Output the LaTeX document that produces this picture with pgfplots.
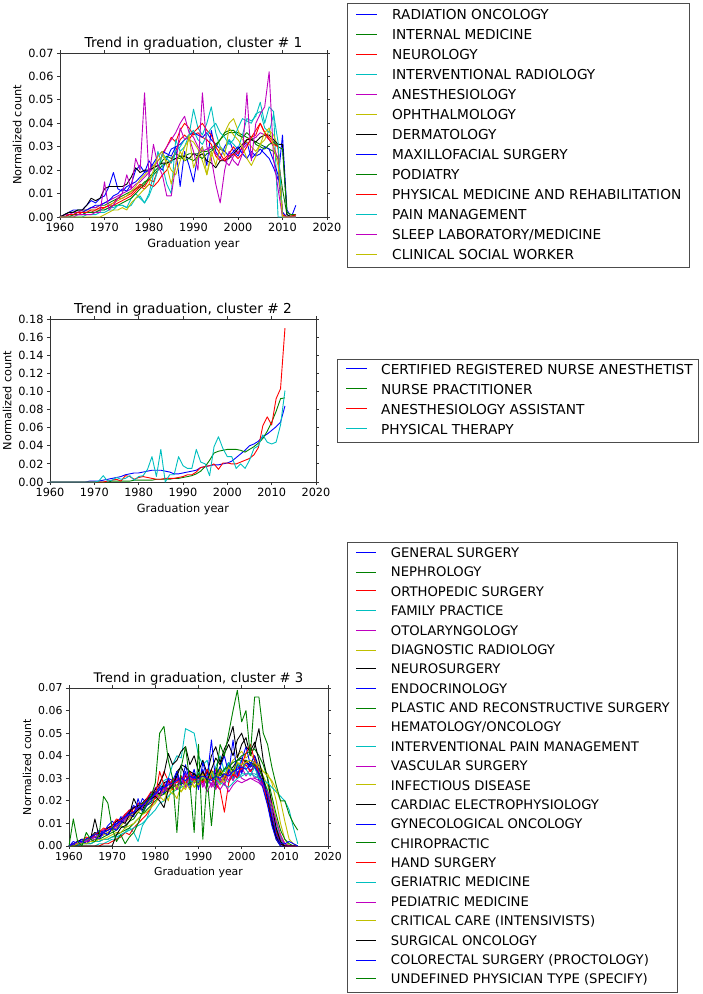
\documentclass[border=0pt]{standalone}
\usepackage{fontspec}
\setmainfont{DejaVu Sans}
\usepackage{pgfplots}
\usepackage{pgfplotstable}
\pgfplotsset{compat=1.18}
\definecolor{mb}{rgb}{0,0,1}
\definecolor{mg}{rgb}{0,0.5,0}
\definecolor{mr}{rgb}{1,0,0}
\definecolor{mc}{rgb}{0,0.75,0.75}
\definecolor{mm}{rgb}{0.75,0,0.75}
\definecolor{my}{rgb}{0.75,0.75,0}
\definecolor{mk}{rgb}{0,0,0}
\newcommand{\tickfont}{\fontsize{11.3}{13}\selectfont}
\newcommand{\bigfont}{\fontsize{13.7}{16}\selectfont}
\newcommand{\tickfontc}{\fontsize{10.9}{12.5}\selectfont}
\newcommand{\bigfontc}{\fontsize{13.2}{15.5}\selectfont}

% values in thousandths, one row per series, one column per graduation year
\pgfplotstableread{
name 1960 1961 1962 1963 1964 1965 1966 1967 1968 1969 1970 1971 1972 1973 1974 1975 1976 1977 1978 1979 1980 1981 1982 1983 1984 1985 1986 1987 1988 1989 1990 1991 1992 1993 1994 1995 1996 1997 1998 1999 2000 2001 2002 2003 2004 2005 2006 2007 2008 2009 2010 2011 2012 2013
a 0 1 2 3 3 3 5 7 6 8 9 13 19 12 11 13 14 20 22 19 24 21 22 20 25 29 30 13 28 22 15 27 30 22 37 28 25 30 33 28 26 30 32 25 27 29 27 25 21 16 35 3 0 5
b 0 1 2 2 3 3 3 4 4 5 5 6 7 8 9 10 11 12 13 15 16 18 20 22 23 24 25 25 26 27 27 27 28 28 29 31 33 35 36 36 36 35 34 33 32 31 30 29 28 25 12 1 0 0
c 0 0 1 1 1 2 2 2 3 3 4 5 6 8 8 9 10 12 14 13 16 15 20 27 30 34 32 37 40 38 35 36 34 33 31 26 24 25 27 30 27 30 33 34 35 40 36 34 32 30 0 0 1 0
d 0 0 0 1 1 1 2 2 2 3 3 4 4 5 5 4 8 10 8 6 10 18 28 22 14 10 33 28 30 35 46 38 35 40 47 36 30 28 33 31 29 35 42 41 43 49 40 47 45 0 0 0 0 0
e 0 1 1 2 2 3 3 4 4 5 6 7 8 9 10 11 12 14 15 17 19 21 24 26 30 33 36 40 43 36 34 30 28 29 30 27 25 24 22 26 28 29 31 33 34 36 35 33 30 25 2 0 0 0
f 0 0 1 1 2 2 3 3 3 4 4 5 6 7 8 9 11 13 16 18 20 22 24 26 24 20 18 24 30 33 32 29 24 18 26 30 33 36 40 42 37 33 32 30 28 31 33 37 35 30 1 0 1 1
g 0 1 2 2 3 3 5 8 7 8 12 13 13 13 13 14 17 21 19 20 20 21 22 23 23 24 25 26 26 25 27 26 27 24 23 21 24 24 25 27 29 31 33 33 32 34 35 35 33 31 31 1 0 1
h 0 0 1 1 2 2 3 4 5 5 6 7 9 10 12 11 14 15 17 19 20 23 26 28 27 26 30 31 33 35 36 35 34 36 33 31 29 28 26 28 30 27 25 28 26 27 30 29 24 18 2 0 0 0
i 0 0 0 1 1 1 2 2 2 3 3 4 5 5 6 7 8 10 12 14 17 19 21 24 26 25 27 26 24 25 24 26 25 27 28 30 33 36 37 37 35 34 36 34 31 30 29 31 32 30 29 2 1 1
j 0 0 1 1 2 2 2 3 3 4 4 5 5 6 7 8 9 11 13 12 14 13 15 18 20 24 28 33 35 33 36 38 40 37 35 30 27 24 26 27 25 27 30 34 37 40 36 33 31 30 1 0 0 1
k 0 0 0 0 0 0 1 1 1 2 2 3 3 5 5 4 5 8 9 6 9 14 20 27 25 23 28 30 33 35 37 33 31 35 38 40 36 34 31 33 38 42 41 40 44 45 38 36 44 32 0 0 0 0
l 0 0 0 0 1 1 1 1 2 2 15 3 5 8 10 18 12 25 20 53 17 31 22 18 9 9 22 38 33 34 28 20 53 30 25 14 6 20 28 24 22 27 53 24 40 44 47 62 25 12 0 0 0 0
m 0 0 0 0 0 0 0 0 0 0 1 2 3 3 4 3 6 8 10 12 14 20 26 28 22 14 22 28 24 35 21 26 30 18 28 22 30 26 38 35 33 30 25 22 26 31 36 38 30 22 0 0 0 0
}\rawA
\pgfplotstabletranspose[colnames from=name,input colnames to=year]{\dataA}{\rawA}

\pgfplotstableread{
name 1960 1961 1962 1963 1964 1965 1966 1967 1968 1969 1970 1971 1972 1973 1974 1975 1976 1977 1978 1979 1980 1981 1982 1983 1984 1985 1986 1987 1988 1989 1990 1991 1992 1993 1994 1995 1996 1997 1998 1999 2000 2001 2002 2003 2004 2005 2006 2007 2008 2009 2010 2011 2012 2013
crna 0 0 0 0 0 0 0 0 0 1 1 1 2 3 4 5 6 8 9 10 10 11 12 13 13 13 12 11 9 9 10 11 12 13 16 17 18 19 19 20 21 23 27 31 35 40 42 45 50 53 57 61 66 84
np 0 0 0 0 0 0 0 0 0 0 0 0 0 0 1 1 1 1 1 2 2 2 2 2 3 3 3 3 4 4 5 6 7 9 12 17 24 32 34 35 36 36 36 35 33 36 39 43 48 56 66 78 92 93
aa 0 0 0 0 0 0 0 0 0 0 0 0 0 1 2 3 1 7 6 3 5 6 5 4 3 3 4 4 4 5 6 8 8 11 16 17 18 20 14 21 21 20 20 22 24 26 30 38 62 72 63 92 103 170
pt 0 0 0 0 0 0 0 0 0 0 0 1 7 1 2 5 3 4 7 2 6 7 14 28 6 36 0 8 8 28 18 15 15 36 22 20 7 39 50 37 28 28 15 20 15 24 37 40 52 44 42 44 63 101
}\rawB
\pgfplotstabletranspose[colnames from=name,input colnames to=year]{\dataB}{\rawB}

\pgfplotstableread{
name 1960 1961 1962 1963 1964 1965 1966 1967 1968 1969 1970 1971 1972 1973 1974 1975 1976 1977 1978 1979 1980 1981 1982 1983 1984 1985 1986 1987 1988 1989 1990 1991 1992 1993 1994 1995 1996 1997 1998 1999 2000 2001 2002 2003 2004 2005 2006 2007 2008 2009 2010 2011 2012 2013
a 0 1 2 2 3 4 4 5 7 8 9 10 11 14 15 18 16 21 19 24 22 27 25 30 26 33 27 32 25 31 27 34 28 31 26 33 29 35 30 36 32 38 33 36 29 26 19 10 4 1 0 0 0 0
b 0 0 1 1 2 2 3 3 4 5 6 7 9 8 11 12 15 14 18 19 23 21 26 24 29 26 31 27 32 28 33 29 34 30 32 35 31 36 33 37 34 38 35 36 30 27 21 13 6 2 0 0 0 0
c 0 1 1 2 3 4 5 6 7 8 9 11 10 14 13 17 16 19 18 22 21 26 24 29 25 30 27 31 28 32 27 33 29 34 28 33 30 35 31 36 33 38 35 37 31 28 20 11 4 1 0 0 0 0
d 0 1 1 2 3 3 4 5 6 7 8 9 10 12 13 15 16 18 19 21 24 22 27 25 29 26 31 28 32 29 33 28 31 27 32 29 30 28 33 30 32 32 32 32 31 29 25 18 10 4 1 0 0 0
e 0 1 2 3 3 4 5 6 7 8 9 11 12 14 15 17 18 19 21 22 26 23 28 25 30 26 31 27 33 28 32 26 30 27 33 28 32 29 34 30 35 31 34 30 31 28 22 14 6 1 0 0 0 0
f 0 1 1 2 2 3 4 4 5 6 7 8 9 11 12 14 15 17 19 20 22 26 23 28 24 21 27 25 30 26 28 31 27 33 29 32 28 34 31 36 36 37 36 35 34 31 27 20 12 5 1 0 0 0
g 0 1 2 3 3 4 6 5 6 8 9 11 12 13 15 17 18 19 21 22 24 23 28 29 26 33 35 31 30 32 30 29 31 33 32 34 30 33 35 38 39 37 36 40 35 29 19 10 3 0 0 0 0 0
h 0 2 1 3 2 4 5 7 6 9 11 9 13 12 16 14 19 17 21 23 22 27 25 30 26 31 28 33 27 31 28 33 27 32 29 35 30 34 31 36 33 37 35 38 31 29 22 12 5 1 0 0 0 0
i 0 1 1 2 3 3 4 5 6 7 8 9 10 12 14 15 17 19 20 22 24 22 27 25 29 26 30 27 31 28 32 29 33 30 35 31 34 37 33 38 38 38 37 36 34 30 24 15 7 2 0 0 0 0
j 0 1 2 2 4 3 5 6 8 7 9 12 11 14 16 15 19 18 21 24 23 27 33 29 27 30 28 29 31 28 30 32 29 31 34 28 30 33 31 35 34 36 33 35 32 28 22 14 6 1 0 0 0 0
k 0 0 0 0 0 0 0 1 1 2 3 3 5 6 8 6 2 9 12 17 23 26 29 30 36 40 39 52 51 50 40 36 38 30 35 40 33 37 29 35 38 34 31 35 30 26 21 15 8 3 0 0 0 0
l 0 0 1 1 2 2 3 4 5 6 7 8 10 11 13 14 16 17 19 21 22 25 23 28 26 30 27 32 28 30 26 29 24 28 25 30 27 32 29 33 30 29 30 29 28 26 21 15 8 3 1 0 0 0
m 0 1 1 2 3 3 4 5 5 6 7 9 10 12 13 15 17 18 20 21 23 22 25 20 28 26 24 27 30 26 29 32 28 33 30 27 31 35 38 40 42 39 41 38 36 33 32 28 20 10 3 0 0 0
n 0 0 1 1 2 3 12 4 6 5 8 9 11 10 14 21 17 16 20 22 25 28 32 41 36 38 42 44 36 40 33 38 32 40 44 37 43 47 53 39 45 48 40 44 52 38 30 18 8 2 0 0 0 0
o 0 1 0 2 1 3 4 3 6 5 8 7 10 12 14 13 21 15 18 20 24 26 23 30 29 33 27 36 28 34 25 37 30 47 28 35 40 32 47 31 38 44 36 40 33 25 18 9 3 0 0 0 0 0
p 0 0 0 1 1 1 2 2 3 3 4 5 6 7 8 10 12 14 16 18 20 22 23 25 26 27 28 27 28 29 30 29 28 30 31 32 34 35 37 38 40 41 42 43 40 36 30 22 14 7 3 1 0 0
q 0 0 0 0 0 0 0 0 1 1 2 3 4 6 5 8 10 12 14 17 22 33 27 24 30 28 31 27 33 29 31 28 34 30 27 25 15 28 32 30 36 41 45 38 32 27 20 12 5 1 0 0 0 0
r 0 0 0 1 1 1 2 2 3 3 4 4 5 6 7 8 9 10 12 14 16 19 20 22 24 25 26 27 29 28 29 30 31 32 30 28 27 26 28 30 31 32 32 31 30 29 28 26 24 22 20 16 8 1
s 0 1 1 2 2 3 4 5 6 7 8 9 11 12 14 15 17 18 19 21 23 21 26 24 28 25 30 26 31 28 30 27 31 26 29 25 28 24 27 29 28 29 30 30 29 27 24 18 11 5 1 0 0 0
t 0 0 1 1 1 2 2 3 3 4 5 6 6 8 9 10 12 14 15 17 19 22 20 25 23 27 24 28 25 29 27 31 28 33 29 34 31 35 32 37 36 37 38 37 35 33 31 29 25 20 11 3 1 0
u 0 0 0 0 0 0 0 0 0 0 0 5 8 9 11 14 16 18 20 21 22 20 17 25 27 31 36 35 33 32 30 33 29 34 39 36 41 45 40 47 50 44 42 46 38 30 21 12 4 1 0 0 0 0
v 0 1 2 2 3 4 5 5 6 7 8 10 11 13 14 15 17 18 20 21 23 25 26 27 28 29 30 29 31 30 30 31 30 29 31 30 32 31 33 34 35 34 36 35 32 28 22 13 5 1 1 2 1 0
w 0 12 2 0 6 3 2 5 22 19 8 2 5 1 4 6 10 15 19 22 28 50 53 38 30 6 35 44 28 6 45 3 30 9 30 45 40 50 60 69 55 60 40 66 66 50 45 35 27 20 20 14 10 7
}\rawC
\pgfplotstabletranspose[colnames from=name,input colnames to=year]{\dataC}{\rawC}

\pgfplotsset{
  trend/.style={
    scale only axis, anchor=south west,
    xmin=1960, xmax=2020, ymin=0,
    xtick={1960,1970,1980,1990,2000,2010,2020},
    xticklabels={1960,1970,1980,1990,2000,2010,2020},
    tick align=outside, major tick length=3pt,
    axis line style={black!80, line width=0.8pt},
    every tick/.style={black!80, line width=0.8pt},
    xlabel={Graduation year}, ylabel={Normalized count},
    title style={at={(0.5,1)}, anchor=base, inner sep=0pt, yshift=0pt},
    no markers,
    every axis plot/.append style={line width=0.9pt, line join=round},
  },
}

\begin{document}
\begin{tikzpicture}
\path[use as bounding box] (0pt,0pt) rectangle (702pt,-994pt);

\begin{axis}[trend, at={(60pt,-217pt)}, width=267pt, height=164pt,
  ymax=70, ytick={0,10,20,30,40,50,60,70},
  yticklabels={0.00,0.01,0.02,0.03,0.04,0.05,0.06,0.07},
  title={Trend in graduation, cluster \# 1},
  ticklabel style={font=\tickfont}, label style={font=\tickfont}, title style={font=\bigfont}]
\addplot[mb] table[x=year,y=a]{\dataA};
\addplot[mg] table[x=year,y=b]{\dataA};
\addplot[mr] table[x=year,y=c]{\dataA};
\addplot[mc] table[x=year,y=d]{\dataA};
\addplot[mm] table[x=year,y=e]{\dataA};
\addplot[my] table[x=year,y=f]{\dataA};
\addplot[mk] table[x=year,y=g]{\dataA};
\addplot[mb] table[x=year,y=h]{\dataA};
\addplot[mg] table[x=year,y=i]{\dataA};
\addplot[mr] table[x=year,y=j]{\dataA};
\addplot[mc] table[x=year,y=k]{\dataA};
\addplot[mm] table[x=year,y=l]{\dataA};
\addplot[my] table[x=year,y=m]{\dataA};
\end{axis}

\begin{axis}[trend, at={(50pt,-482pt)}, width=266pt, height=163pt,
  ymax=180, ytick={0,20,40,60,80,100,120,140,160,180},
  yticklabels={0.00,0.02,0.04,0.06,0.08,0.10,0.12,0.14,0.16,0.18},
  title={Trend in graduation, cluster \# 2},
  ticklabel style={font=\tickfont}, label style={font=\tickfont}, title style={font=\bigfont}]
\addplot[mb] table[x=year,y=crna]{\dataB};
\addplot[mg] table[x=year,y=np]{\dataB};
\addplot[mr] table[x=year,y=aa]{\dataB};
\addplot[mc] table[x=year,y=pt]{\dataB};
\end{axis}

\begin{axis}[trend, at={(69pt,-846pt)}, width=259pt, height=158pt,
  ymax=70, ytick={0,10,20,30,40,50,60,70},
  yticklabels={0.00,0.01,0.02,0.03,0.04,0.05,0.06,0.07},
  title={Trend in graduation, cluster \# 3},
  ticklabel style={font=\tickfontc}, label style={font=\tickfontc}, title style={font=\bigfontc}]
\addplot[mb] table[x=year,y=a]{\dataC};
\addplot[mg] table[x=year,y=b]{\dataC};
\addplot[mr] table[x=year,y=c]{\dataC};
\addplot[mc] table[x=year,y=d]{\dataC};
\addplot[mm] table[x=year,y=e]{\dataC};
\addplot[my] table[x=year,y=f]{\dataC};
\addplot[mk] table[x=year,y=g]{\dataC};
\addplot[mb] table[x=year,y=h]{\dataC};
\addplot[mg] table[x=year,y=i]{\dataC};
\addplot[mr] table[x=year,y=j]{\dataC};
\addplot[mc] table[x=year,y=k]{\dataC};
\addplot[mm] table[x=year,y=l]{\dataC};
\addplot[my] table[x=year,y=m]{\dataC};
\addplot[mk] table[x=year,y=n]{\dataC};
\addplot[mb] table[x=year,y=o]{\dataC};
\addplot[mg] table[x=year,y=p]{\dataC};
\addplot[mr] table[x=year,y=q]{\dataC};
\addplot[mc] table[x=year,y=r]{\dataC};
\addplot[mm] table[x=year,y=s]{\dataC};
\addplot[my] table[x=year,y=t]{\dataC};
\addplot[mk] table[x=year,y=u]{\dataC};
\addplot[mb] table[x=year,y=v]{\dataC};
\addplot[mg] table[x=year,y=w]{\dataC};
\end{axis}

% legends beside each axis; sample lines sit on whole pixel rows so they keep their colour
\draw[black!70, line width=0.8pt] (347pt,-3pt) rectangle (689pt,-267pt);
\foreach \c/\t [count=\k from 0] in {mb/RADIATION ONCOLOGY, mg/INTERNAL MEDICINE, mr/NEUROLOGY,
  mc/INTERVENTIONAL RADIOLOGY, mm/ANESTHESIOLOGY, my/OPHTHALMOLOGY, mk/DERMATOLOGY,
  mb/MAXILLOFACIAL SURGERY, mg/PODIATRY, mr/PHYSICAL MEDICINE AND REHABILITATION,
  mc/PAIN MANAGEMENT, mm/{SLEEP LABORATORY/MEDICINE}, my/CLINICAL SOCIAL WORKER}{
  \draw[\c, line width=0.9pt] (356pt,{-(14+20*\k)*1pt}) -- (377pt,{-(14+20*\k)*1pt});
  \node[anchor=base west, inner sep=0pt, font=\bigfont] at (392pt,{-(19+20*\k)*1pt}) {\t};
}

\draw[black!70, line width=0.8pt] (337pt,-359pt) rectangle (698pt,-442pt);
\foreach \c/\t [count=\k from 0] in {mb/CERTIFIED REGISTERED NURSE ANESTHETIST,
  mg/NURSE PRACTITIONER, mr/ANESTHESIOLOGY ASSISTANT, mc/PHYSICAL THERAPY}{
  \draw[\c, line width=0.9pt] (346pt,{-(368.5+20*\k)*1pt}) -- (367pt,{-(368.5+20*\k)*1pt});
  \node[anchor=base west, inner sep=0pt, font=\bigfont] at (381pt,{-(374.3+20*\k)*1pt}) {\t};
}

\draw[black!70, line width=0.8pt] (347pt,-542pt) rectangle (677pt,-992pt);
\foreach \c/\y/\t [count=\k from 0] in {mb/552.5/GENERAL SURGERY, mg/572.5/NEPHROLOGY,
  mr/590.5/ORTHOPEDIC SURGERY, mc/610.5/FAMILY PRACTICE, mm/630.5/OTOLARYNGOLOGY,
  my/650.5/DIAGNOSTIC RADIOLOGY, mk/668.5/NEUROSURGERY, mb/688.5/ENDOCRINOLOGY,
  mg/708.5/PLASTIC AND RECONSTRUCTIVE SURGERY, mr/726.5/{HEMATOLOGY/ONCOLOGY},
  mc/746.5/INTERVENTIONAL PAIN MANAGEMENT, mm/766.5/VASCULAR SURGERY,
  my/784.5/INFECTIOUS DISEASE, mk/804.5/CARDIAC ELECTROPHYSIOLOGY,
  mb/824.5/GYNECOLOGICAL ONCOLOGY, mg/842.5/CHIROPRACTIC, mr/862.5/HAND SURGERY,
  mc/882.5/GERIATRIC MEDICINE, mm/902.5/PEDIATRIC MEDICINE,
  my/920.5/CRITICAL CARE (INTENSIVISTS), mk/940.5/SURGICAL ONCOLOGY,
  mb/960.5/COLORECTAL SURGERY (PROCTOLOGY), mg/978.5/UNDEFINED PHYSICIAN TYPE (SPECIFY)}{
  \draw[\c, line width=0.9pt] (356pt,{-\y*1pt}) -- (376pt,{-\y*1pt});
  \node[anchor=base west, inner sep=0pt, font=\bigfontc] at (390.7pt,{-(557.5+19.38*\k)*1pt}) {\t};
}
\end{tikzpicture}
\end{document}
